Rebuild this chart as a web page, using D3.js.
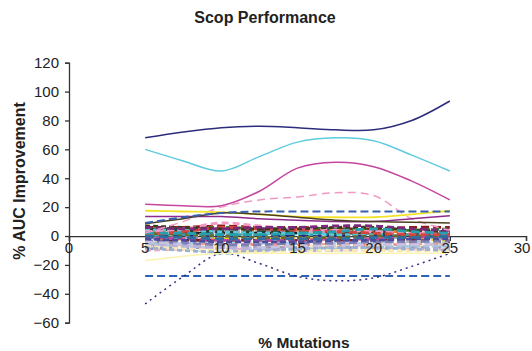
<!DOCTYPE html>
<html>
<head>
<meta charset="utf-8">
<script src="https://cdn.jsdelivr.net/npm/d3@7"></script>
<style>
  body { margin: 0; background: #fff; }
  svg { display: block; font-family: "Liberation Sans", Arial, Helvetica, sans-serif; }
</style>
</head>
<body>
<div id="chart"></div>
<script>
// % mutations at which every run was measured
const xs = [5, 7.5, 10, 12.5, 15, 17.5, 20, 22.5, 25];

const xTicks = [0, 5, 10, 15, 20, 25, 30];
const yTicks = [-60, -40, -20, 0, 20, 40, 60, 80, 100, 120];

// the lines that stand out of the bundle
const navyLine    = [68, 72, 75, 76, 75, 73.5, 73.5, 80, 93.5];
const cyanLine    = [60, 52, 45, 55, 65, 68, 66, 56, 45];
const magentaLine = [22, 21, 21, 31, 47, 51, 48, 38, 25];
const pinkDashed  = [2, 10, 20, 25, 27, 30, 28, 12, 4];
const blueDashTop = [9, 13, 16, 17, 17, 17, 17, 17, 17];
const yellowLine  = [17.5, 17, 16.5, 15, 13.5, 13, 13, 15, 17.5];
const purpleLine  = [13.5, 13.5, 13.5, 12, 11, 10, 10, 12, 14];
const oliveLine   = [8.5, 12, 16, 15, 13, 11, 10, 9.5, 9];
const blueDashLow = [-27.7, -27.7, -27.7, -27.7, -27.7, -27.7, -27.7, -27.7, -27.7];
const navyDotted  = [-47, -28, -12, -19, -28, -31, -29, -21, -12];
const lemonLine   = [-17, -14, -12, -12, -12, -12, -12, -12, -12];

// the dense bundle around zero
const bundle = [
  [6, 6, 7, 6, 6, 5, 5, 6, 6],
  [5, 5, 6, 5, 5, 5, 4, 4, 5],
  [4, 5, 5, 5, 4, 4, 4, 3, 3],
  [3, 3, 4, 4, 4, 4, 3, 3, 2],
  [2, 3, 3, 3, 3, 3, 3, 2, 2],
  [1, 2, 2, 2, 2, 2, 2, 2, 1],
  [0, 1, 1, 1, 1, 1, 1, 1, 0],
  [-1, 0, 0, 0, 0, 0, 0, 0, -1],
  [-2, -1, -1, -1, -1, -1, -1, -1, -2],
  [-3, -2, -2, -2, -2, -2, -2, -2, -3],
  [-4, -3, -3, -3, -3, -3, -3, -3, -4],
  [-5, -4, -4, -4, -4, -4, -4, -4, -5],
  [-6, -5, -5, -5, -5, -5, -5, -5, -6],
  [-7, -6, -6, -6, -6, -6, -6, -6, -6],
  [-8, -7, -7, -7, -7, -7, -7, -7, -7],
  [-9, -8, -8, -8, -8, -8, -8, -8, -8],
  [-10, -9, -9, -9, -9, -9, -9, -9, -9],
  [5, 4, 3, 3, 3, 2, 2, 1, 1],
  [4, 4, 3, 2, 2, 1, 1, 0, 0],
  [-1, -2, -3, -3, -3, -2, -2, -1, 0],
  [-3, -5, -6, -6, -5, -5, -4, -4, -3],
  [-5, -8, -12, -10, -9, -9, -8, -7, -7],
  [-4, -6, -9, -8, -7, -7, -6, -6, -6],
  [2, 1, 0, -1, -1, -1, 0, 0, 0],
  [3, 5, 9, 7, 5, 4, 3, 2, 2],
  [1, 3, 6, 5, 4, 3, 2, 1, 1],
  [-2, -3, -4, -4, -4, -3, -3, -2, -2],
  [0, -1, -2, -2, -2, -2, -1, -1, 0],
  [7, 6, 5, 5, 5, 6, 6, 4, 3],
  [6, 5, 5, 6, 6, 7, 7, 5, 4],
  [-6, -7, -8, -9, -10, -10, -9, -9, -9],
  [-7, -9, -10, -11, -10, -10, -10, -10, -10],
  [2, 2, 1, 1, 2, 3, 5, 3, 2],
  [-8, -10, -11, -10, -9, -8, -8, -9, -10]
];
const bundleColors = [
  "#8b1c1c", "#2d7d3a", "#5a2a7a", "#e07b1f", "#a9aecd", "#1e1e1e",
  "#3aa3a6", "#2b2b6e", "#9098c0", "#e8cf25", "#7e1a2a", "#b8b8b8",
  "#a8d0ea", "#f08a80", "#f5e9c6", "#8e95b8", "#e7b0c8", "#1f3d2a",
  "#5bc8dc", "#c04a9e", "#7d7fb6", "#9fc7e0", "#c9c2e0", "#6a6a2a",
  "#f29ac6", "#d8453c", "#4b4b9b", "#2e6f9e", "#3b3a1a", "#7b2a7b",
  "#b7b2d8", "#f7e9b8", "#26a0b0", "#9db0d0"
];

const dashes = ["8,4", "6,3", "9,5", "5,3", "7,4"];

const major = [
  { v: navyLine,    c: "#2b2d7c", w: 1.5, d: null },
  { v: cyanLine,    c: "#5fcbdf", w: 1.5, d: null },
  { v: magentaLine, c: "#c4469f", w: 1.5, d: null },
  { v: pinkDashed,  c: "#f29ac6", w: 1.5, d: "8,5" },
  { v: yellowLine,  c: "#f3e22a", w: 1.8, d: null },
  { v: purpleLine,  c: "#8e2a8a", w: 1.5, d: null },
  { v: oliveLine,   c: "#4a4020", w: 1.5, d: null },
  { v: blueDashTop, c: "#3560ad", w: 2,   d: "8,4" },
  { v: blueDashLow, c: "#2f62b0", w: 2,   d: "8,4" },
  { v: navyDotted,  c: "#2e2f80", w: 1.5, d: "2,4" },
  { v: lemonLine,   c: "#fbf3b0", w: 1.5, d: null }
];

const width = 532, height = 351;
const margin = { left: 69, right: 6, top: 62.7, bottom: 28.3 };

const x = d3.scaleLinear().domain([0, 30]).range([margin.left, width - margin.right]);
const y = d3.scaleLinear().domain([-60, 120]).range([height - margin.bottom, margin.top]);

const svg = d3.select('#chart').append('svg')
  .attr('width', width)
  .attr('height', height);

const line = d3.line()
  .x((d, i) => x(xs[i]))
  .y(d => y(d))
  .curve(d3.curveCatmullRom.alpha(0.5));

// y axis
const yAxis = svg.append('g')
  .attr('transform', `translate(${x(0)},0)`)
  .call(d3.axisLeft(y).tickValues(yTicks).tickSize(4).tickPadding(6)
    .tickFormat(d => d < 0 ? '\u2212' + Math.abs(d) : d));
yAxis.select('.domain').attr('stroke', '#333').attr('stroke-width', 1.3);
yAxis.selectAll('.tick line').attr('stroke', '#333').attr('stroke-width', 1.3);
yAxis.selectAll('text').attr('font-size', 15).attr('fill', '#222');

// x axis through zero
const xAxis = svg.append('g')
  .attr('transform', `translate(0,${y(0)})`)
  .call(d3.axisBottom(x).tickValues(xTicks).tickSize(5).tickFormat(d => ''));
xAxis.select('.domain').attr('stroke', '#333').attr('stroke-width', 1.3);
xAxis.selectAll('.tick line').attr('stroke', '#333').attr('stroke-width', 1.3);

// bundle lines
svg.append('g')
  .selectAll('path')
  .data(bundle)
  .enter()
  .append('path')
  .attr('d', d => line(d))
  .attr('fill', 'none')
  .attr('stroke', (d, i) => bundleColors[i % bundleColors.length])
  .attr('stroke-width', 2.8)
  .attr('stroke-dasharray', (d, i) => dashes[i % dashes.length]);

// standout lines
svg.append('g')
  .selectAll('path')
  .data(major)
  .enter()
  .append('path')
  .attr('d', d => line(d.v))
  .attr('fill', 'none')
  .attr('stroke', d => d.c)
  .attr('stroke-width', d => d.w)
  .attr('stroke-dasharray', d => d.d);

// x tick labels sit right under the zero line (last one kept inside the frame)
svg.append('g')
  .selectAll('text')
  .data(xTicks)
  .enter()
  .append('text')
  .attr('x', d => Math.min(x(d), width - 10))
  .attr('y', y(0) + 17)
  .attr('text-anchor', 'middle')
  .attr('font-size', 15)
  .attr('fill', '#222')
  .text(d => d);

svg.append('text')
  .attr('x', 265)
  .attr('y', 23)
  .attr('text-anchor', 'middle')
  .attr('font-size', 16)
  .attr('font-weight', 'bold')
  .attr('fill', '#222')
  .text('Scop Performance');

svg.append('text')
  .attr('transform', 'translate(25,181) rotate(-90)')
  .attr('text-anchor', 'middle')
  .attr('font-size', 16)
  .attr('font-weight', 'bold')
  .attr('fill', '#222')
  .text('% AUC Improvement');

svg.append('text')
  .attr('x', 304)
  .attr('y', 348)
  .attr('text-anchor', 'middle')
  .attr('font-size', 15.5)
  .attr('font-weight', 'bold')
  .attr('fill', '#222')
  .text('% Mutations');
</script>
</body>
</html>
